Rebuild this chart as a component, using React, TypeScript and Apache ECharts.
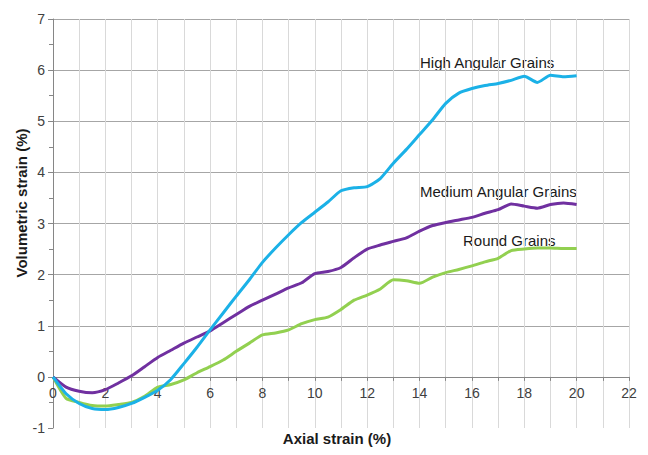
import React, { useEffect, useRef } from "react";
import * as echarts from "echarts";

// Axial strain (%) sampled every 0.5 %
const axialStrain = [
  0, 0.5, 1, 1.5, 2, 2.5, 3, 3.5, 4, 4.5, 5, 5.5, 6, 6.5, 7, 7.5, 8, 8.5, 9, 9.5,
  10, 10.5, 11, 11.5, 12, 12.5, 13, 13.5, 14, 14.5, 15, 15.5, 16, 16.5, 17, 17.5,
  18, 18.5, 19, 19.5, 20,
];

// Volumetric strain (%) for each grain shape
const highAngular = [
  0, -0.33, -0.52, -0.62, -0.64, -0.6, -0.52, -0.4, -0.26, -0.05, 0.26, 0.58, 0.92,
  1.25, 1.58, 1.9, 2.24, 2.52, 2.78, 3.02, 3.22, 3.42, 3.64, 3.7, 3.72, 3.88, 4.18,
  4.45, 4.74, 5.03, 5.35, 5.55, 5.64, 5.7, 5.74, 5.8, 5.88, 5.76, 5.9, 5.87, 5.89,
];
const mediumAngular = [
  0, -0.2, -0.28, -0.31, -0.25, -0.12, 0.02, 0.2, 0.38, 0.52, 0.66, 0.78, 0.9,
  1.06, 1.22, 1.38, 1.5, 1.62, 1.74, 1.84, 2.02, 2.06, 2.14, 2.33, 2.5, 2.58, 2.65,
  2.72, 2.85, 2.96, 3.02, 3.07, 3.12, 3.2, 3.27, 3.38, 3.34, 3.3, 3.37, 3.4, 3.37,
];
const round = [
  0, -0.42, -0.5, -0.56, -0.57, -0.54, -0.5, -0.38, -0.2, -0.15, -0.06, 0.08, 0.2,
  0.33, 0.5, 0.66, 0.82, 0.86, 0.92, 1.04, 1.12, 1.17, 1.32, 1.5, 1.6, 1.72, 1.9,
  1.88, 1.83, 1.95, 2.04, 2.1, 2.17, 2.25, 2.32, 2.47, 2.5, 2.52, 2.52, 2.51, 2.51,
];

const seriesNames = ["High Angular Grains", "Medium Angular Grains", "Round Grains"];
const seriesColors = ["#1bb1e7", "#7030a0", "#92d050"];

const FONT = "'Liberation Sans', Arial, sans-serif";
const Y_MIN = -1;
const Y_MAX = 7;
const GRID_HEIGHT = 409;

export default function App() {
  const ref = useRef<HTMLDivElement>(null);

  useEffect(() => {
    document.body.style.margin = "0";
    const chart = echarts.init(ref.current!, null, { renderer: "svg" });
    const pairs = (ys: number[]) => axialStrain.map((x, i) => [x, ys[i]]);
    const curves = [highAngular, mediumAngular, round];
    // lift the horizontal axis from the bottom edge up to the zero line
    const zeroOffset = -(GRID_HEIGHT * (0 - Y_MIN)) / (Y_MAX - Y_MIN);

    chart.setOption({
      animation: false,
      backgroundColor: "#ffffff",
      grid: { left: 53, top: 19, width: 576, height: GRID_HEIGHT, containLabel: false },
      xAxis: {
        type: "value",
        min: 0,
        max: 22,
        interval: 1,
        offset: zeroOffset,
        axisLine: { onZero: false, lineStyle: { color: "#868686", width: 1 } },
        axisTick: { show: true, length: 4, lineStyle: { color: "#868686" } },
        axisLabel: {
          margin: 9,
          color: "#404040",
          fontSize: 14,
          fontFamily: FONT,
          formatter: (v: number) => (v % 2 === 0 ? String(v) : ""),
        },
        splitLine: { show: true, lineStyle: { color: "#d9d9d9", width: 1 } },
      },
      yAxis: {
        type: "value",
        min: Y_MIN,
        max: Y_MAX,
        interval: 1,
        axisLine: { show: true, lineStyle: { color: "#868686", width: 1 } },
        axisTick: { show: true, length: 5, lineStyle: { color: "#868686" } },
        minorTick: { show: true, splitNumber: 2, length: 4, lineStyle: { color: "#868686" } },
        axisLabel: {
          margin: 8,
          color: "#404040",
          fontSize: 14,
          fontFamily: FONT,
        },
        splitLine: {
          show: true,
          lineStyle: {
            color: ["transparent", "#a6a6a6", "#a6a6a6", "#a6a6a6", "#a6a6a6", "#a6a6a6", "#a6a6a6", "#a6a6a6", "#a6a6a6"],
            width: 1,
          },
        },
      },
      series: curves.map((ys, i) => ({
        name: seriesNames[i],
        type: "line",
        data: pairs(ys),
        showSymbol: false,
        symbol: "none",
        smooth: 0.2,
        lineStyle: { color: seriesColors[i], width: 3 },
        z: 3 - i,
      })),
      graphic: [
        {
          type: "text",
          left: 420,
          top: 55,
          style: { text: seriesNames[0], font: `15px ${FONT}`, fill: "#1a1a1a" },
        },
        {
          type: "text",
          left: 420,
          top: 184,
          style: { text: seriesNames[1], font: `15px ${FONT}`, fill: "#1a1a1a" },
        },
        {
          type: "text",
          left: 463,
          top: 233,
          style: { text: seriesNames[2], font: `15px ${FONT}`, fill: "#1a1a1a" },
        },
        {
          type: "text",
          x: 337,
          y: 438,
          style: {
            text: "Axial strain (%)",
            font: `bold 15px ${FONT}`,
            fill: "#1a1a1a",
            align: "center",
            verticalAlign: "middle",
          },
        },
        {
          type: "text",
          x: 21,
          y: 203,
          rotation: Math.PI / 2,
          style: {
            text: "Volumetric strain (%)",
            font: `bold 15px ${FONT}`,
            fill: "#1a1a1a",
            align: "center",
            verticalAlign: "middle",
          },
        },
      ],
    });

    return () => chart.dispose();
  }, []);

  return <div ref={ref} style={{ width: 648, height: 455 }} />;
}
